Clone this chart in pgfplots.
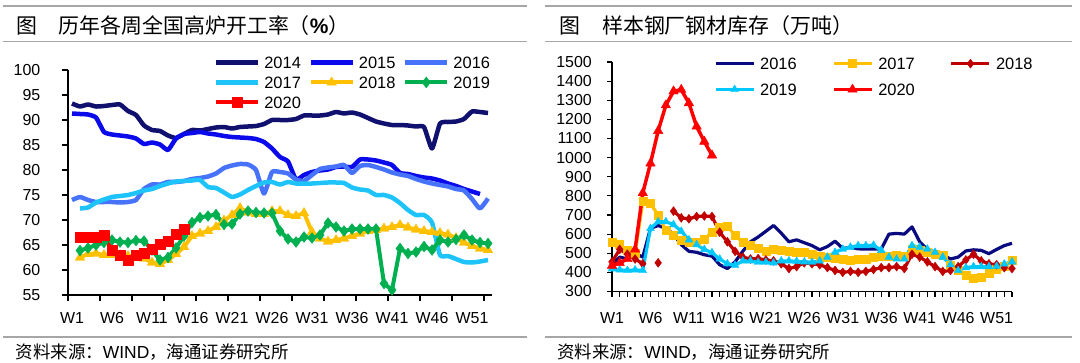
\documentclass[border=0pt]{standalone}
\usepackage{fontspec}
\setmainfont{Liberation Sans}
\newfontfamily\cjk{Noto Sans CJK SC}
\usepackage{pgfplots}
\pgfplotsset{compat=1.18}
\definecolor{c14}{RGB}{16,16,110}
\definecolor{c15}{RGB}{10,10,235}
\definecolor{c16}{RGB}{70,115,250}
\definecolor{c17}{RGB}{30,195,250}
\definecolor{c18}{RGB}{255,192,0}
\definecolor{c19}{RGB}{0,176,80}
\definecolor{c20}{RGB}{255,0,0}
\definecolor{r16}{RGB}{10,10,128}
\definecolor{r18}{RGB}{192,0,0}
\definecolor{r19}{RGB}{0,200,255}
\definecolor{rulec}{RGB}{166,166,166}
\pgfplotsset{
 mybase/.style={scale only axis, clip=false, axis lines=left,
  axis line style={-, line width=1.2bp, black},
  tick align=outside, tick style={line width=1.2bp, black},
  ticklabel style={font=\fontsize{16}{16}\selectfont, inner sep=0pt},
  /pgf/number format/assume math mode=true,
  /pgf/number format/1000 sep={},
  legend cell align=left,
  unbounded coords=jump,
 }
}
\begin{document}
\begin{tikzpicture}
\useasboundingbox (0bp,0bp) rectangle (1080bp,363bp);
% rules
\draw[rulec, line width=1.5bp] (3bp,357bp) -- (527bp,357bp);
\draw[rulec, line width=1.5bp] (3bp,321.5bp) -- (527bp,321.5bp);
\draw[rulec, line width=1.5bp] (3bp,26bp) -- (527bp,26bp);
\draw[rulec, line width=1.5bp] (545bp,357bp) -- (1072bp,357bp);
\draw[rulec, line width=1.5bp] (545bp,321.5bp) -- (1072bp,321.5bp);
\draw[rulec, line width=1.5bp] (545bp,26bp) -- (1072bp,26bp);
% titles
\node[anchor=west, inner sep=0pt, font=\cjk\fontsize{21}{21}\selectfont] at (16.5bp,337bp) {图};
\node[anchor=west, inner sep=0pt, font=\cjk\fontsize{21}{21}\selectfont] at (58.6bp,337bp) {历年各周全国高炉开工率（{\rmfamily\bfseries\%}）};
\node[anchor=west, inner sep=0pt, font=\cjk\fontsize{21}{21}\selectfont] at (559bp,337bp) {图};
\node[anchor=west, inner sep=0pt, font=\cjk\fontsize{21}{21}\selectfont] at (602bp,337bp) {样本钢厂钢材库存（万吨）};
% sources
\node[anchor=west, inner sep=0pt, font=\cjk\fontsize{17.5}{17.5}\selectfont] at (15.5bp,11bp) {资料来源：{\rmfamily WIND}，海通证券研究所};
\node[anchor=west, inner sep=0pt, font=\cjk\fontsize{17.5}{17.5}\selectfont] at (557bp,11bp) {资料来源：{\rmfamily WIND}，海通证券研究所};

% ---------------- left chart
\begin{axis}[mybase,
 at={(68bp,68bp)}, anchor=south west, width=424bp, height=225bp,
 xmin=0.5, xmax=53.5, ymin=55, ymax=100,
 ytick={55,60,...,100},
 xtick={0.5,4.5,...,52.5}, xticklabels={},
 extra x ticks={1,6,...,51},
 extra x tick labels={W1,W6,W11,W16,W21,W26,W31,W36,W41,W46,W51},
 extra x tick style={major tick length=0pt},
 major tick length=6bp,
 yticklabel style={anchor=east, xshift=-21.5bp},
 xticklabel style={anchor=north, yshift=-17bp},
 legend columns=3,
 legend style={at={(0.344,1.059)}, anchor=north west, draw=none, fill=none,
   inner sep=0pt, outer sep=0pt, font=\fontsize{16.5}{16.5}\selectfont,
   row sep=8bp, nodes={inner sep=0pt, text height=11.8bp, text depth=0bp},
   /tikz/every odd column/.append style={column sep=4bp},
   /tikz/every even column/.append style={column sep=7.5bp}},
 legend image code/.code={\draw[mark repeat=2,mark phase=2,#1] plot coordinates {(0bp,0bp) (21bp,0bp) (42bp,0bp)};},
]
\addplot[c14, line width=4.5bp, no markers, line join=round, smooth, tension=0.3] coordinates {(1,93.3)(2,92.7)(3,93.1)(4,92.7)(5,92.8)(6,93.0)(7,93.1)(8,91.8)(9,91.0)(10,88.9)(11,88.0)(12,87.8)(13,86.9)(14,86.4)(15,87.2)(16,88.0)(17,87.9)(18,88.2)(19,88.5)(20,88.6)(21,88.3)(22,88.6)(23,88.7)(24,88.8)(25,89.2)(26,90.0)(27,90.0)(28,90.0)(29,90.2)(30,90.9)(31,90.9)(32,90.9)(33,91.1)(34,91.6)(35,91.3)(36,91.5)(37,91.1)(38,90.4)(39,89.7)(40,89.3)(41,89.0)(42,89.0)(43,88.9)(44,88.7)(45,88.6)(46,84.3)(47,89.3)(48,89.6)(49,89.7)(50,90.2)(51,91.7)(52,91.6)(53,91.4)};
\addlegendentry{2014}
\addplot[c15, line width=4.5bp, no markers, line join=round, smooth, tension=0.3] coordinates {(1,91.3)(2,91.2)(3,91.1)(4,90.5)(5,87.6)(6,87.1)(7,86.9)(8,86.7)(9,86.3)(10,85.2)(11,85.5)(12,85.1)(13,84.0)(14,86.3)(15,87.2)(16,87.4)(17,87.6)(18,87.3)(19,87.1)(20,86.8)(21,86.6)(22,86.5)(23,86.4)(24,86.2)(25,85.6)(26,84.3)(27,82.6)(28,81.7)(29,78.1)(30,79.0)(31,79.6)(32,79.9)(33,80.1)(34,80.6)(35,80.7)(36,80.6)(37,82.1)(38,82.1)(39,81.9)(40,81.5)(41,81.0)(42,79.4)(43,79.2)(44,78.8)(45,78.5)(46,78.3)(47,77.9)(48,77.3)(49,76.8)(50,76.2)(51,75.7)(52,75.2)};
\addlegendentry{2015}
\addplot[c16, line width=4.5bp, no markers, line join=round, smooth, tension=0.3] coordinates {(1,74.0)(2,74.6)(3,74.0)(4,73.6)(5,73.6)(6,73.6)(7,73.5)(8,73.6)(9,74.0)(10,76.2)(11,77.1)(12,77.1)(13,77.6)(14,77.6)(15,77.8)(16,78.2)(17,78.4)(18,78.7)(19,79.3)(20,80.4)(21,80.9)(22,81.2)(23,81.1)(24,80.0)(25,75.3)(26,79.6)(27,79.6)(28,79.3)(29,78.1)(30,77.8)(31,79.0)(32,80.2)(33,80.5)(34,80.7)(35,81.0)(36,79.4)(37,80.8)(38,81.0)(39,80.6)(40,80.1)(41,79.5)(42,79.1)(43,78.8)(44,78.2)(45,77.7)(46,77.3)(47,77.0)(48,76.7)(49,76.2)(50,75.9)(51,74.2)(52,72.3)(53,74.3)};
\addlegendentry{2016}
\addplot[c17, line width=4.5bp, no markers, line join=round, smooth, tension=0.3] coordinates {(2,72.3)(3,72.5)(4,73.5)(5,74.1)(6,74.6)(7,74.8)(8,75.0)(9,75.4)(10,75.9)(11,76.2)(12,76.8)(13,77.3)(14,77.7)(15,77.8)(16,77.9)(17,78.0)(18,76.6)(19,76.4)(20,75.5)(21,74.6)(22,75.1)(23,76.0)(24,76.8)(25,77.5)(26,77.6)(27,77.1)(28,77.6)(29,77.3)(30,77.3)(31,77.3)(32,77.4)(33,77.5)(34,77.5)(35,77.4)(36,76.5)(37,76.1)(38,75.9)(39,75.0)(40,75.0)(41,74.5)(42,73.4)(43,72.0)(44,71.0)(45,71.0)(46,69.5)(47,63.0)(48,62.8)(49,62.2)(50,61.6)(51,61.5)(52,61.7)(53,62.0)};
\addlegendentry{2017}
\addplot[c18, line width=4bp, line join=round, mark=triangle*, mark size=5.5bp, mark options={solid, fill=c18, draw=c18, line width=0.4bp}] coordinates {(2,62.5)(3,63.2)(4,63.3)(5,63.0)(6,63.0)(7,63.0)(8,62.8)(9,62.8)(10,62.3)(11,61.5)(12,61.2)(13,62.0)(14,63.2)(15,64.6)(16,66.8)(17,67.3)(18,67.8)(19,68.6)(20,69.9)(21,71.0)(22,72.4)(23,71.5)(24,71.2)(25,71.2)(26,71.8)(27,71.8)(28,71.0)(29,70.8)(30,71.4)(31,67.6)(32,66.3)(33,65.7)(34,66.0)(35,66.3)(36,66.8)(37,67.3)(38,67.8)(39,68.0)(40,68.3)(41,68.6)(42,69.0)(43,68.5)(44,68.1)(45,67.8)(46,67.6)(47,67.4)(48,67.1)(49,66.4)(50,65.5)(51,64.8)(52,64.3)(53,64.0)};
\addlegendentry{2018}
\addplot[c19, line width=4bp, line join=round, mark=diamond*, mark size=5.5bp, mark options={solid, fill=c19, draw=c19, line width=0.4bp}] coordinates {(2,63.9)(3,64.4)(4,65.0)(5,65.5)(6,66.0)(7,65.6)(8,65.5)(9,65.9)(10,65.8)(11,64.0)(12,62.0)(13,62.5)(14,64.4)(15,66.8)(16,69.5)(17,70.5)(18,70.8)(19,71.1)(20,69.1)(21,69.2)(22,71.2)(23,71.8)(24,71.5)(25,71.4)(26,71.4)(27,67.8)(28,66.2)(29,65.6)(30,66.6)(31,66.4)(32,67.0)(33,69.4)(34,68.6)(35,67.8)(36,68.2)(37,68.2)(38,68.2)(39,68.2)(40,57.3)(41,56.0)(42,64.3)(43,63.3)(44,63.6)(45,64.7)(46,64.0)(47,66.0)(48,65.6)(49,66.1)(50,67.0)(51,66.0)(52,65.5)(53,65.3)};
\addlegendentry{2019}
\addplot[c20, line width=4bp, line join=round, mark=square*, mark size=5bp, mark options={solid, fill=c20, draw=c20, line width=0.4bp}] coordinates {(2,66.6)(3,66.6)(4,66.6)(5,67.0)(6,64.0)(7,62.9)(8,61.9)(9,62.9)(10,63.3)(11,64.2)(12,65.2)(13,65.8)(14,67.1)(15,68.2)};
\addlegendentry{2020}
\end{axis}

% ---------------- right chart
\begin{axis}[mybase,
 at={(612bp,71.5bp)}, anchor=south west, width=400bp, height=229.5bp,
 xmin=1, xmax=53, ymin=300, ymax=1500,
 ytick={300,400,...,1500},
 xtick={1,...,53}, xticklabels={},
 extra x ticks={1,6,...,51},
 extra x tick labels={W1,W6,W11,W16,W21,W26,W31,W36,W41,W46,W51},
 extra x tick style={major tick length=0pt},
 major tick length=5bp,
 yticklabel style={anchor=east, xshift=-15bp},
 xticklabel style={anchor=north, yshift=-20.5bp},
 legend columns=3,
 legend style={at={(0.255,1.0185)}, anchor=north west, draw=none, fill=none,
   inner sep=0pt, outer sep=0pt, font=\fontsize{16.5}{16.5}\selectfont,
   row sep=14bp, nodes={inner sep=0pt, text height=11.8bp, text depth=0bp},
   /tikz/every odd column/.append style={column sep=5bp},
   /tikz/every even column/.append style={column sep=35bp}},
 legend image code/.code={\draw[mark repeat=2,mark phase=2,#1] plot coordinates {(0bp,0bp) (19bp,0bp) (38bp,0bp)};},
]
\addplot[r16, line width=3.2bp, no markers, line join=round] coordinates {(1,440)(2,480)(3,470)(4,500)(5,480)(6,630)(7,645)(8,630)(9,600)(10,545)(11,510)(12,505)(13,492)(14,485)(15,440)(16,420)(17,455)(18,510)(19,560)(20,585)(21,615)(22,645)(23,605)(24,560)(25,570)(26,555)(27,540)(28,518)(29,535)(30,563)(31,525)(32,530)(33,523)(34,522)(35,522)(36,522)(37,600)(38,604)(39,600)(40,638)(41,560)(42,520)(43,505)(44,490)(45,470)(46,480)(47,512)(48,518)(49,515)(50,498)(51,520)(52,540)(53,552)};
\addlegendentry{2016}
\addplot[c18, line width=3.2bp, line join=round, mark=square*, mark size=4bp, mark options={solid, fill=c18, draw=c18, line width=0.4bp}] coordinates {(1,557)(2,545)(3,515)(4,500)(5,770)(6,760)(7,700)(8,620)(9,595)(10,570)(11,560)(12,560)(13,575)(14,610)(15,635)(16,640)(17,595)(18,557)(19,540)(20,525)(21,512)(22,520)(23,516)(24,512)(25,508)(26,505)(27,495)(28,485)(29,478)(30,472)(31,468)(32,462)(33,468)(34,470)(35,478)(36,482)(37,483)(38,488)(39,483)(40,520)(41,515)(42,505)(43,497)(44,490)(45,440)(46,410)(47,385)(48,372)(49,375)(50,395)(51,415)(52,430)(53,465)};
\addlegendentry{2017}
\addplot[r18, line width=3.2bp, line join=round, mark=diamond*, mark size=4.5bp, mark options={solid, fill=r18, draw=r18, line width=0.4bp}] coordinates {(1,455)(2,520)(3,495)(4,470)(5,445)(6,nan)(7,450)(8,nan)(9,720)(10,685)(11,680)(12,692)(13,695)(14,692)(15,610)(16,560)(17,510)(18,480)(19,470)(20,472)(21,465)(22,460)(23,445)(24,420)(25,430)(26,450)(27,445)(28,440)(29,425)(30,410)(31,400)(32,405)(33,400)(34,405)(35,415)(36,425)(37,425)(38,430)(39,420)(40,495)(41,480)(42,455)(43,430)(44,405)(45,410)(46,430)(47,465)(48,495)(49,460)(50,445)(51,440)(52,425)(53,420)};
\addlegendentry{2018}
\addplot[r19, line width=3.2bp, line join=round, mark=triangle*, mark size=4.5bp, mark options={solid, fill=r19, draw=r19, line width=0.4bp}] coordinates {(1,418)(2,413)(3,410)(4,413)(5,410)(6,630)(7,665)(8,665)(9,650)(10,615)(11,570)(12,545)(13,520)(14,503)(15,470)(16,445)(17,437)(18,460)(19,460)(20,453)(21,453)(22,450)(23,460)(24,460)(25,458)(26,455)(27,453)(28,460)(29,480)(30,505)(31,522)(32,532)(33,540)(34,540)(35,542)(36,515)(37,480)(38,470)(39,470)(40,540)(41,532)(42,522)(43,505)(44,480)(45,440)(46,410)(47,425)(48,430)(49,430)(50,430)(51,432)(52,444)(53,455)};
\addlegendentry{2019}
\addplot[c20, line width=3.5bp, line join=round, mark=triangle*, mark size=5.5bp, mark options={solid, fill=c20, draw=c20, line width=0.4bp}] coordinates {(1,435)(2,450)(3,470)(4,520)(5,815)(6,970)(7,1140)(8,1274)(9,1347)(10,1355)(11,1285)(12,1163)(13,1084)(14,1012)};
\addlegendentry{2020}
\end{axis}
\end{tikzpicture}
\end{document}
